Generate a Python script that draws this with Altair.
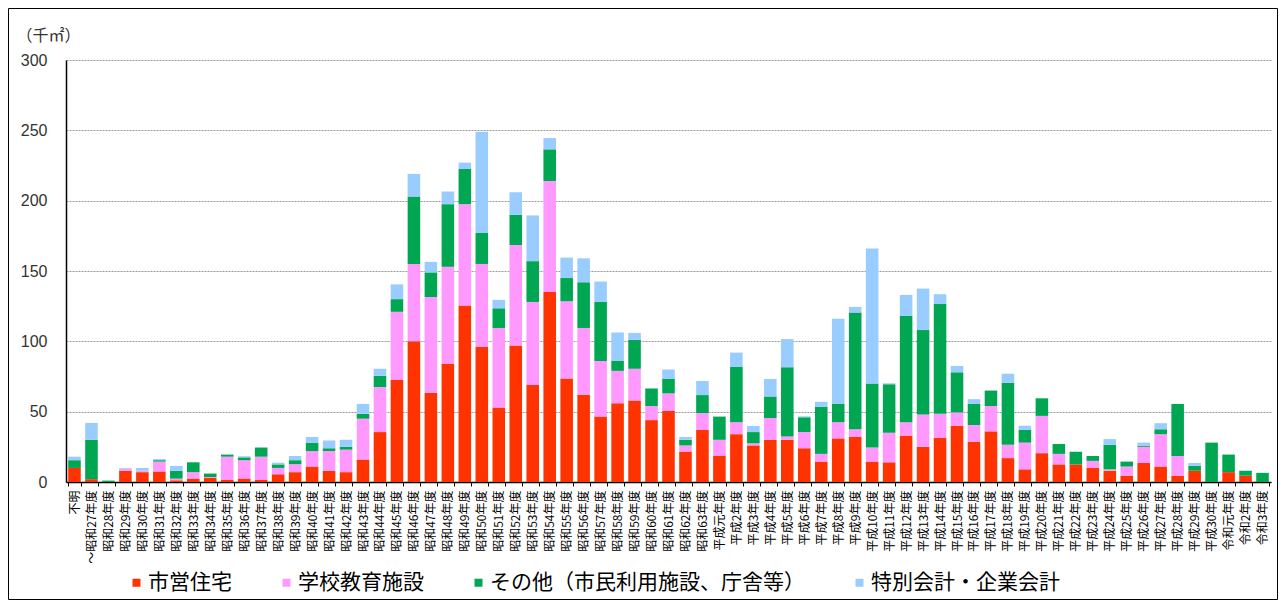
import altair as alt
import pandas as pd

categories = [
    "不明", "～昭和27年度", "昭和28年度", "昭和29年度", "昭和30年度", "昭和31年度", "昭和32年度",
    "昭和33年度", "昭和34年度", "昭和35年度", "昭和36年度", "昭和37年度", "昭和38年度", "昭和39年度",
    "昭和40年度", "昭和41年度", "昭和42年度", "昭和43年度", "昭和44年度", "昭和45年度", "昭和46年度",
    "昭和47年度", "昭和48年度", "昭和49年度", "昭和50年度", "昭和51年度", "昭和52年度", "昭和53年度",
    "昭和54年度", "昭和55年度", "昭和56年度", "昭和57年度", "昭和58年度", "昭和59年度", "昭和60年度",
    "昭和61年度", "昭和62年度", "昭和63年度", "平成元年度", "平成2年度", "平成3年度", "平成4年度",
    "平成5年度", "平成6年度", "平成7年度", "平成8年度", "平成9年度", "平成10年度", "平成11年度",
    "平成12年度", "平成13年度", "平成14年度", "平成15年度", "平成16年度", "平成17年度", "平成18年度",
    "平成19年度", "平成20年度", "平成21年度", "平成22年度", "平成23年度", "平成24年度", "平成25年度",
    "平成26年度", "平成27年度", "平成28年度", "平成29年度", "平成30年度", "令和元年度", "令和2年度",
    "令和3年度",
]

series_names = ["市営住宅", "学校教育施設", "その他（市民利用施設、庁舎等）", "特別会計・企業会計"]
series_colors = ["#FF3300", "#FF99FF", "#00A651", "#99CCFF"]

housing = [10, 2, 0, 8, 7, 7.5, 1.2, 2.5, 3, 1.5, 2.5, 1.5, 5.5, 7, 11, 8, 7, 16, 35.5, 72.5,
           100, 63.5, 84, 125.5, 96, 53, 97, 69, 135, 73.5, 62, 46.5, 56, 58, 44, 50.5, 21.5, 37,
           18.5, 34, 26, 30, 30, 24, 14.5, 31, 32, 14.5, 14, 33, 25, 31.5, 40, 28.5, 36, 17, 9,
           20.5, 12.5, 12.5, 10, 8, 4.5, 13.5, 11, 4.5, 8, 0, 7, 4.5, 0]
school = [0, 0, 0, 1.5, 1, 7, 1.2, 4.5, 0.5, 16.5, 13, 16.5, 4.5, 5.7, 11, 14, 16, 29, 32, 48.5,
          55, 68, 69, 72, 59, 56.5, 71.5, 59, 79, 55, 47.5, 39.5, 23, 22.5, 10, 12.5, 4.5, 12,
          11.5, 8.5, 1.5, 15.5, 2.3, 11.5, 5.5, 11.5, 5.5, 10, 21, 9.5, 23, 17, 9.5, 12, 18, 9.5,
          19, 26.5, 7.5, 0, 5, 1, 6.5, 11.5, 23, 14, 0, 0, 0, 0, 0]
other = [5.5, 28, 1, 0, 0, 1, 5.5, 7, 2.5, 1.5, 2, 6.5, 2.5, 2.8, 6, 2, 2, 3.5, 8, 9,
         48, 17.5, 44.5, 25, 22, 14, 21.5, 29, 22.5, 16.5, 32.5, 42, 7.3, 20.5, 12.5, 10.5, 4,
         12.8, 16.5, 39.5, 8, 15.3, 49.3, 10.5, 33.5, 13, 83, 45.5, 34.5, 75.5, 60, 78, 28.5,
         15, 11, 44, 9, 12.5, 7, 9, 3.5, 17.5, 3.5, 0.8, 3.5, 37, 3.5, 28, 12.5, 3.5, 6.5]
special = [2.5, 12, 0, 0.5, 2, 0.8, 3.5, 0, 0, 0.3, 0.8, 0, 1.2, 3, 4, 5.5, 5, 7, 5, 10.5,
           16, 7.5, 9, 4.5, 72, 6, 16, 32.5, 8, 14.5, 17, 14.5, 20, 5, 0, 6.5, 2, 10, 0, 10,
           4.3, 12.4, 20, 0.7, 3.5, 60.5, 4, 96, 0.7, 15, 29.5, 7, 4.5, 3.4, 0, 6.5, 3, 0, 0,
           0, 0, 4, 0, 2.2, 4.3, 0, 2, 0, 0, 0, 0]

y_ticks = [0, 50, 100, 150, 200, 250, 300]

rows = []
for k, vals in enumerate([housing, school, other, special]):
    for c, v in zip(categories, vals):
        rows.append({"年度": c, "分類": series_names[k], "k": k, "面積": v})
df = pd.DataFrame(rows)

JP = "Noto Sans CJK JP"

bars = alt.Chart(df).mark_bar().encode(
    x=alt.X(
        "年度:N",
        sort=categories,
        scale=alt.Scale(paddingInner=0.26, paddingOuter=0.13),
        axis=alt.Axis(
            title=None, labelAngle=270, labelFontSize=12, labelFont=JP, labelColor="#000000",
            labelPadding=4, labelOverlap=False, labelLimit=200, tickBand="extent", tickSize=4,
            tickColor="#000000", domainColor="#000000", domainWidth=1.5, grid=False,
        ),
    ),
    y=alt.Y(
        "面積:Q",
        stack="zero",
        scale=alt.Scale(domain=[0, 300], nice=False),
        axis=alt.Axis(
            values=y_ticks, title="（千㎡）", titleAngle=0, titleAlign="left", titleBaseline="middle",
            titleX=-50, titleY=-25, titleFont=JP, titleFontSize=16, titleFontWeight="normal",
            titleColor="#333333", labelFont="Liberation Sans", labelFontSize=16, labelColor="#333333",
            labelPadding=19, tickSize=0, domainColor="#000000", domainWidth=1.5,
            gridColor="#9a9a9a", gridDash=[2, 1], gridWidth=1,
        ),
    ),
    color=alt.Color(
        "分類:N",
        scale=alt.Scale(domain=series_names, range=series_colors),
        legend=alt.Legend(
            title=None, orient="none", direction="horizontal", legendX=60, legendY=512,
            labelFont=JP, labelFontSize=21, labelColor="#000000", labelLimit=600,
            symbolType="square", symbolSize=64, symbolStrokeWidth=0, labelOffset=1,
            columnPadding=44, padding=0,
        ),
    ),
    order=alt.Order("k:Q", sort="ascending"),
)

frame = alt.Chart(pd.DataFrame({"a": [0]})).mark_rect(
    fill=None, stroke="#000000", strokeWidth=1
).encode(
    x=alt.value(-57.5), x2=alt.value(1211.5), y=alt.value(-51.5), y2=alt.value(539.5)
)

chart = alt.layer(bars, frame).properties(
    width=1205,
    height=422,
    autosize=alt.AutoSizeParams(type="none"),
    padding={"left": 58, "top": 52, "right": 7, "bottom": 118},
).configure_view(stroke=None)

chart.save("out.html", embed_options={"renderer": "svg", "actions": False})
